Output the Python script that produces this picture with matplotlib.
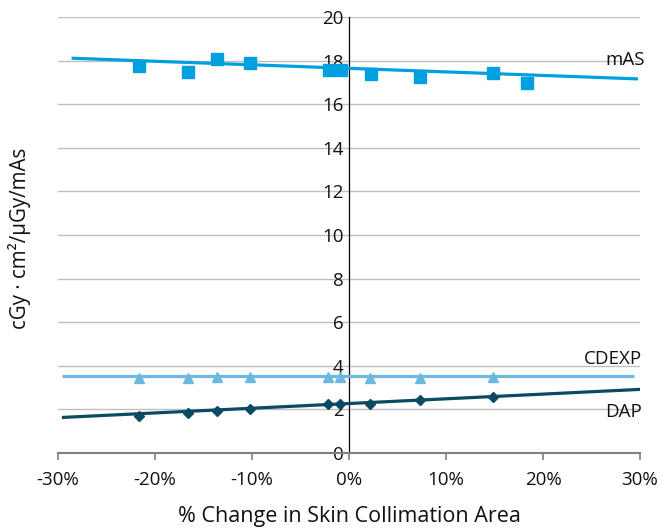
import matplotlib
matplotlib.use("Agg")
import matplotlib.pyplot as plt
import numpy as np

plt.rcParams['font.family'] = ['Open Sans', 'DejaVu Sans']

# Data (% change in skin collimation area vs. value)
mas_x = [-21.7, -16.6, -13.6, -10.2, -2.1, -0.8, 2.3, 7.3, 14.8, 18.3]
mas_y = [17.76, 17.50, 18.08, 17.89, 17.55, 17.55, 17.39, 17.26, 17.42, 16.98]

cdexp_x = [-21.7, -16.6, -13.6, -10.2, -2.2, -0.9, 2.2, 7.3, 14.8]
cdexp_y = [3.42, 3.42, 3.48, 3.48, 3.48, 3.50, 3.42, 3.42, 3.48]

dap_x = [-21.7, -16.6, -13.6, -10.2, -2.2, -0.9, 2.2, 7.3, 14.8]
dap_y = [1.72, 1.83, 1.94, 2.02, 2.27, 2.24, 2.25, 2.43, 2.55]

# Linear trend lines (end points)
mas_trend_x = [-28.6, 29.8]
mas_trend_y = [18.11, 17.16]
cdexp_trend_x = [-29.6, 29.4]
cdexp_trend_y = [3.51, 3.51]
dap_trend_x = [-29.6, 30.1]
dap_trend_y = [1.63, 2.92]

xticks = [-30, -20, -10, 0, 10, 20, 30]
xticklabels = ['-30%', '-20%', '-10%', '0%', '10%', '20%', '30%']
yticks = [0, 2, 4, 6, 8, 10, 12, 14, 16, 18, 20]

c_mas = '#00A0E0'
c_cdexp = '#6DB8E0'
c_dap = '#0B4A63'

fig = plt.figure(figsize=(6.71, 5.30), dpi=100)
ax = fig.add_axes([58/671, 1-453/530, 582/671, 436/530])

for tx, ty, c in [(mas_trend_x, mas_trend_y, c_mas),
                  (cdexp_trend_x, cdexp_trend_y, c_cdexp),
                  (dap_trend_x, dap_trend_y, c_dap)]:
    ax.plot(tx, ty, color=c, lw=2.3, zorder=3, solid_capstyle='butt')

ax.plot(mas_x, mas_y, 's', color=c_mas, ms=8, mec=c_mas, zorder=4)
ax.plot(cdexp_x, cdexp_y, '^', color=c_cdexp, ms=7.5, mec=c_cdexp, zorder=4)
ax.plot(dap_x, dap_y, 'D', color=c_dap, ms=5.5, mec=c_dap, zorder=4)

ax.text(30.5, 18.05, 'mAS', ha='right', va='center', fontsize=13.5, color='#111111')
ax.text(30.2, 4.3, 'CDEXP', ha='right', va='center', fontsize=13.5, color='#111111')
ax.text(30.2, 1.9, 'DAP', ha='right', va='center', fontsize=13.5, color='#111111')

ax.set_xlim(-30, 30)
ax.set_ylim(0, 20)
ax.set_xticks(xticks)
ax.set_xticklabels(xticklabels)
ax.set_yticks(yticks)

ax.grid(axis='y', color='#BFBFBF', lw=1.0, zorder=0)
ax.set_axisbelow(True)

for s in ['top', 'right']:
    ax.spines[s].set_visible(False)
ax.spines['left'].set_position(('data', 0))
ax.spines['left'].set_color('#000000')
ax.spines['left'].set_linewidth(0.9)
ax.spines['left'].set_zorder(2)
ax.spines['bottom'].set_color('#808080')
ax.spines['bottom'].set_linewidth(1.5)

ax.tick_params(axis='y', length=0, pad=4, labelsize=13.5, labelcolor='#111111')
ax.tick_params(axis='x', direction='out', length=5, width=1.2, color='#808080',
               pad=8, labelsize=13.5, labelcolor='#111111')
for lbl in ax.get_yticklabels():
    lbl.set_zorder(5)

ax.set_xlabel('% Change in Skin Collimation Area', fontsize=15.5, labelpad=12, color='#111111')
fig.text(20/671, 1-238/530, 'cGy · cm²/µGy/mAs', rotation=90, ha='center', va='center',
         fontsize=14.8, color='#111111')

fig.savefig('out.png', dpi=100)
